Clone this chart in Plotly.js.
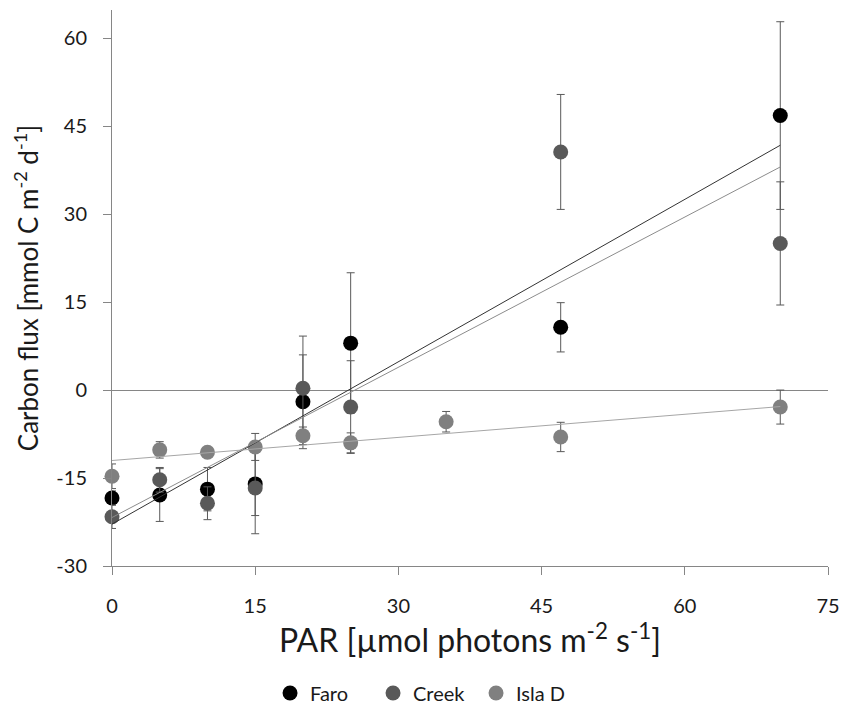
<!DOCTYPE html>
<html>
<head>
<meta charset="utf-8">
<script src="https://cdn.plot.ly/plotly-3.0.1.min.js"></script>
<style>html,body{margin:0;padding:0;background:#fff;}#chart{width:844px;height:713px;}</style>
</head>
<body>
<div id="chart"></div>
<script>
// PAR values and carbon flux means with error values
const xFaro = [0, 5, 10, 15, 20, 25, 47, 70];
const yFaro = [-18.4, -17.9, -16.9, -16.0, -2.0, 8.0, 10.7, 46.8];
const eFaro = [1.2, 4.5, 3.7, 5.4, 8.0, 12.0, 4.2, 16.0];

const xCreek = [0, 5, 10, 15, 20, 25, 47, 70];
const yCreek = [-21.6, -15.3, -19.3, -16.7, 0.3, -2.9, 40.6, 25.0];
const eCreek = [2.0, 2.1, 2.8, 7.8, 8.9, 7.9, 9.8, 10.5];

const xIsla = [0, 5, 10, 15, 20, 25, 35, 47, 70];
const yIsla = [-14.7, -10.2, -10.6, -9.7, -7.8, -9.0, -5.4, -8.0, -2.9];
const eIsla = [2.1, 1.4, 0.8, 2.3, 1.5, 1.7, 1.75, 2.5, 2.9];

const xTickVals = [0, 15, 30, 45, 60, 75];
const xTickText = ['0', '15', '30', '45', '60', '75'];
const yTickVals = [-30, -15, 0, 15, 30, 45, 60];
const yTickText = ['-30', '-15', '0', '15', '30', '45', '60'];

const seriesNames = ['Faro', 'Creek', 'Isla D'];
const markerColors = ['#000000', '#595959', '#808080'];
const trendColors = ['#333333', '#8c8c8c', '#a6a6a6'];

// ordinary least squares trendline (as a spreadsheet linear trendline)
function fit(xs, ys) {
  const n = xs.length;
  const mx = xs.reduce((a, b) => a + b, 0) / n;
  const my = ys.reduce((a, b) => a + b, 0) / n;
  let sxy = 0, sxx = 0;
  for (let i = 0; i < n; i++) { sxy += (xs[i] - mx) * (ys[i] - my); sxx += (xs[i] - mx) ** 2; }
  const b = sxy / sxx, a = my - b * mx;
  const x0 = Math.min(...xs), x1 = Math.max(...xs);
  return { x: [x0, x1], y: [a + b * x0, a + b * x1] };
}

const data = [[xFaro, yFaro, eFaro], [xCreek, yCreek, eCreek], [xIsla, yIsla, eIsla]];
const traces = [];
data.forEach((d, i) => {
  traces.push({
    type: 'scatter', mode: 'markers', name: seriesNames[i],
    x: d[0], y: d[1], cliponaxis: false,
    marker: { color: markerColors[i], size: 15 },
    error_y: { type: 'data', array: d[2], visible: true, color: '#595959', thickness: 1, width: 4 }
  });
});
data.forEach((d, i) => {
  const f = fit(d[0], d[1]);
  traces.push({
    type: 'scatter', mode: 'lines', x: f.x, y: f.y, showlegend: false, hoverinfo: 'skip',
    line: { color: trendColors[i], width: 1 }, cliponaxis: false
  });
});

const fam = 'Lato, "Open Sans", sans-serif';
const ink = '#1a1a1a';
const layout = {
  width: 844, height: 713,
  margin: { l: 112, r: 16, t: 10, b: 147, autoexpand: false },
  paper_bgcolor: '#ffffff', plot_bgcolor: '#ffffff',
  font: { family: fam, color: ink },
  showlegend: true,
  legend: {
    orientation: 'h', xref: 'container', yref: 'container',
    x: 0.503, xanchor: 'center', y: 0.028, yanchor: 'middle',
    font: { family: fam, size: 20, color: ink }, traceorder: 'normal',
    entrywidth: 58, entrywidthmode: 'pixels'
  },
  xaxis: {
    range: [0, 75], tickmode: 'array', tickvals: xTickVals, ticktext: xTickText,
    showgrid: false, zeroline: false, showline: true, linecolor: '#868686', linewidth: 1,
    ticks: 'outside', ticklen: 8, tickcolor: '#868686', ticklabelstandoff: 14,
    tickfont: { size: 20, color: ink, family: fam },
    title: { text: 'PAR [µmol photons m<sup>-2</sup> s<sup>-1</sup>]', font: { size: 32, family: fam, color: ink }, standoff: 12 },
    automargin: false
  },
  yaxis: {
    range: [-30, 64.8], tickmode: 'array', tickvals: yTickVals, ticktext: yTickText,
    showgrid: false, zeroline: true, zerolinecolor: '#868686', zerolinewidth: 1,
    showline: true, linecolor: '#868686', linewidth: 1,
    ticks: 'outside', ticklen: 8, tickcolor: '#868686', ticklabelstandoff: 12,
    tickfont: { size: 20, color: ink, family: fam },
    title: { text: 'Carbon flux [mmol C m<sup>-2</sup> d<sup>-1</sup>]', font: { size: 26, family: fam, color: ink }, standoff: 10 },
    automargin: false
  }
};

Plotly.newPlot('chart', traces, layout, { displayModeBar: false, staticPlot: true });
</script>
</body>
</html>
